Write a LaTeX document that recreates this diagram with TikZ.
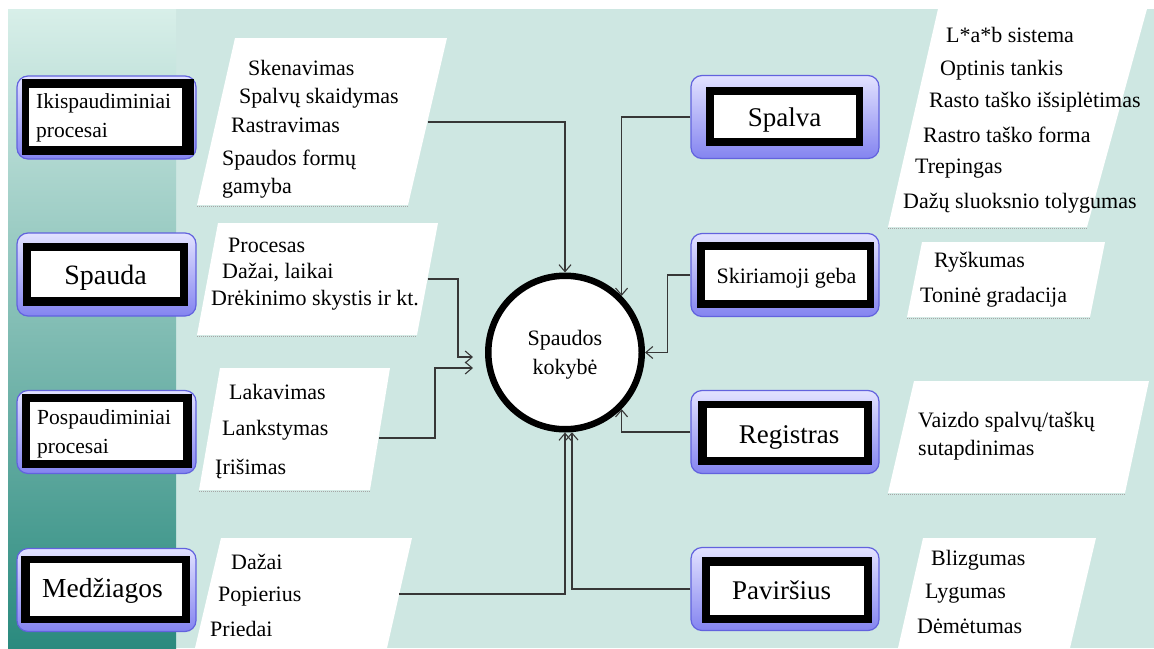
\documentclass[tikz,border=0pt]{standalone}
\usepackage{fontspec}
\setmainfont{Liberation Serif}
\usetikzlibrary{arrows.meta,calc}
\definecolor{bgteal}{RGB}{206,231,226}
\definecolor{paneltop}{RGB}{216,239,233}
\definecolor{panelbot}{RGB}{42,138,126}
\definecolor{lavtop}{RGB}{226,226,255}
\definecolor{lavbot}{RGB}{132,132,240}
\definecolor{lavedge}{RGB}{98,98,222}
\definecolor{conncol}{RGB}{55,55,55}
\begin{document}
\begin{tikzpicture}[x=1pt,y=-1pt,
  outerbox/.style={draw=lavedge, line width=1.2pt, rounded corners=11pt,
    top color=lavtop, bottom color=lavbot, minimum width=179pt, minimum height=83pt, inner sep=0pt},
  para/.style={fill=white},
  parashadow/.style={draw=black!35, line width=1pt, densely dotted},
  li/.style={font=\fontsize{22}{26}\selectfont, inner sep=0pt, anchor=base west},
  bt/.style={inner sep=0pt, anchor=base},
  btl/.style={inner sep=0pt, anchor=base west, align=left},
  conn/.style={draw=conncol, line width=1.2pt},
  arr/.style={conn, -{Straight Barb[length=7pt,width=12pt,line width=1.1pt]}}
]
% canvas
\useasboundingbox (0,0) rectangle (1154,648);
\fill[white] (0,0) rectangle (1154,648);
\fill[bgteal] (8,9) rectangle (1154,648);
\shade[top color=paneltop, bottom color=panelbot] (8,9) rectangle (176,648);

% parallelograms (left)
\fill[para] (235,38) -- (447,38) -- (408,205) -- (197,205) -- cycle;
\draw[parashadow] (197,206) -- (408,206);
\fill[para] (218,223) -- (438,223) -- (417,335) -- (197,335) -- cycle;
\draw[parashadow] (197,336) -- (417,336);
\fill[para] (220,368) -- (390,368) -- (370,490) -- (199,490) -- cycle;
\draw[parashadow] (199,491) -- (370,491);
\fill[para] (221,538) -- (412,538) -- (387,648) -- (195,648) -- cycle;
% parallelograms (right)
\fill[para] (938,9) -- (1147,9) -- (1087,227) -- (888,227) -- cycle;
\draw[parashadow] (888,228) -- (1087,228);
\fill[para] (922,242) -- (1105,242) -- (1090,317) -- (907,317) -- cycle;
\draw[parashadow] (907,318) -- (1090,318);
\fill[para] (914,381) -- (1149,381) -- (1125,493) -- (888,493) -- cycle;
\draw[parashadow] (888,494) -- (1125,494);
\fill[para] (923,538) -- (1096,538) -- (1070,648) -- (898,648) -- cycle;

% left boxes
\node[outerbox] (ikisp) at (106.5,117.5) {};
\fill[black] (22,79) rectangle (194,155);
\fill[white] (29,88) rectangle (182,146);
\node[btl, font=\fontsize{21.5}{29}\selectfont] (ikispT) at (36,108) {Ikispaudiminiai};
\node[btl, font=\fontsize{21.5}{29}\selectfont] (ikispT2) at (36,137) {procesai};

\node[outerbox] (spauda) at (106.5,274.5) {};
\fill[black] (23,243) rectangle (188,306);
\fill[white] (31,251) rectangle (180,297);
\node[bt, font=\fontsize{28}{32}\selectfont] (spaudaT) at (105.5,284) {Spauda};

\node[outerbox] (posp) at (106.5,432) {};
\fill[black] (22,394) rectangle (192,468);
\fill[white] (30,402) rectangle (183,460);
\node[btl, font=\fontsize{21.5}{29}\selectfont] (pospT) at (37,424) {Pospaudiminiai};
\node[btl, font=\fontsize{21.5}{29}\selectfont] (pospT2) at (37,453) {procesai};

\node[outerbox] (medz) at (106.5,590) {};
\fill[black] (21,556) rectangle (190,623);
\fill[white] (30,563) rectangle (182,616);
\node[btl, font=\fontsize{27.5}{32}\selectfont] (medzT) at (42,597) {Medžiagos};

% right boxes
\node[outerbox, minimum width=188pt] (spalva) at (785,117) {};
\fill[black] (706,87) rectangle (863,146);
\fill[white] (714,95) rectangle (856,138);
\node[bt, font=\fontsize{27}{32}\selectfont] (spalvaT) at (784.5,126) {Spalva};

\node[outerbox, minimum width=188pt] (skir) at (785,275) {};
\fill[black] (697,242) rectangle (874,308);
\fill[white] (705,250) rectangle (867,300);
\node[bt, font=\fontsize{22}{26}\selectfont] (skirT) at (786.5,283) {Skiriamoji geba};

\node[outerbox, minimum width=188pt] (reg) at (785,432) {};
\fill[black] (698,401) rectangle (872,465);
\fill[white] (707,408) rectangle (864,457);
\node[bt, font=\fontsize{27}{32}\selectfont] (regT) at (789,443) {Registras};

\node[outerbox, minimum width=188pt] (pav) at (785,589) {};
\fill[black] (702,557) rectangle (872,623);
\fill[white] (710,566) rectangle (864,615);
\node[bt, font=\fontsize{27}{32}\selectfont] (pavT) at (781.5,599) {Paviršius};

% central circle
\node[circle, draw=black, line width=6.5pt, fill=white, minimum size=153.5pt, inner sep=0pt] (q) at (565,352.5) {};
\node[bt, font=\fontsize{22}{26}\selectfont] (qT1) at (565,345) {Spaudos};
\node[bt, font=\fontsize{22}{26}\selectfont] (qT2) at (565,374) {kokybė};

% list texts left
\node[li] (a1) at (248,75) {Skenavimas};
\node[li] (a2) at (239,103) {Spalvų skaidymas};
\node[li] (a3) at (231,132) {Rastravimas};
\node[li] (a4) at (222,165) {Spaudos formų};
\node[li] (a5) at (222,193) {gamyba};
\node[li] (b1) at (228,252) {Procesas};
\node[li] (b2) at (222,278) {Dažai, laikai};
\node[li] (b3) at (211,305) {Drėkinimo skystis ir kt.};
\node[li] (c1) at (229,399) {Lakavimas};
\node[li] (c2) at (222,435) {Lankstymas};
\node[li] (c3) at (215,474) {Įrišimas};
\node[li] (d1) at (231,569) {Dažai};
\node[li] (d2) at (218,601) {Popierius};
\node[li] (d3) at (210,636) {Priedai};
% list texts right
\node[li] (e1) at (946,42) {L*a*b sistema};
\node[li] (e2) at (940,75) {Optinis tankis};
\node[li] (e3) at (929,107) {Rasto taško išsiplėtimas};
\node[li] (e4) at (923,142) {Rastro taško forma};
\node[li] (e5) at (915,173) {Trepingas};
\node[li] (e6) at (903,208) {Dažų sluoksnio tolygumas};
\node[li] (f1) at (934,267) {Ryškumas};
\node[li] (f2) at (920,302) {Toninė gradacija};
\node[li] (g1) at (918,427) {Vaizdo spalvų/taškų};
\node[li] (g2) at (918,455) {sutapdinimas};
\node[li] (h1) at (931,565) {Blizgumas};
\node[li] (h2) at (925,598) {Lygumas};
\node[li] (h3) at (917,633) {Dėmėtumas};

% connector end points
\coordinate (p1e) at (427.5,122);
\coordinate (p2e) at (427.5,279);
\coordinate (p3e) at (379,438);
\coordinate (p4e) at (399,594);
\coordinate (in2) at (473,357);
\coordinate (in3) at (473,368);

% connectors
\draw[arr] (p1e) -| (q.north);
\draw[arr] (p2e) -- ++(30.5,0) |- (in2);
\draw[arr] (p3e) -- ++(56,0) |- (in3);
\draw[arr] (p4e) -| (q.south);
\draw[arr] (spalva.west) -| (q.45);
\draw[arr] (skir.west) -- ++(-23,0) |- (q.east);
\draw[arr] (reg.west) -| (q.-45);
\draw[arr] (pav.west) -| (q.-85);
\end{tikzpicture}
\end{document}
